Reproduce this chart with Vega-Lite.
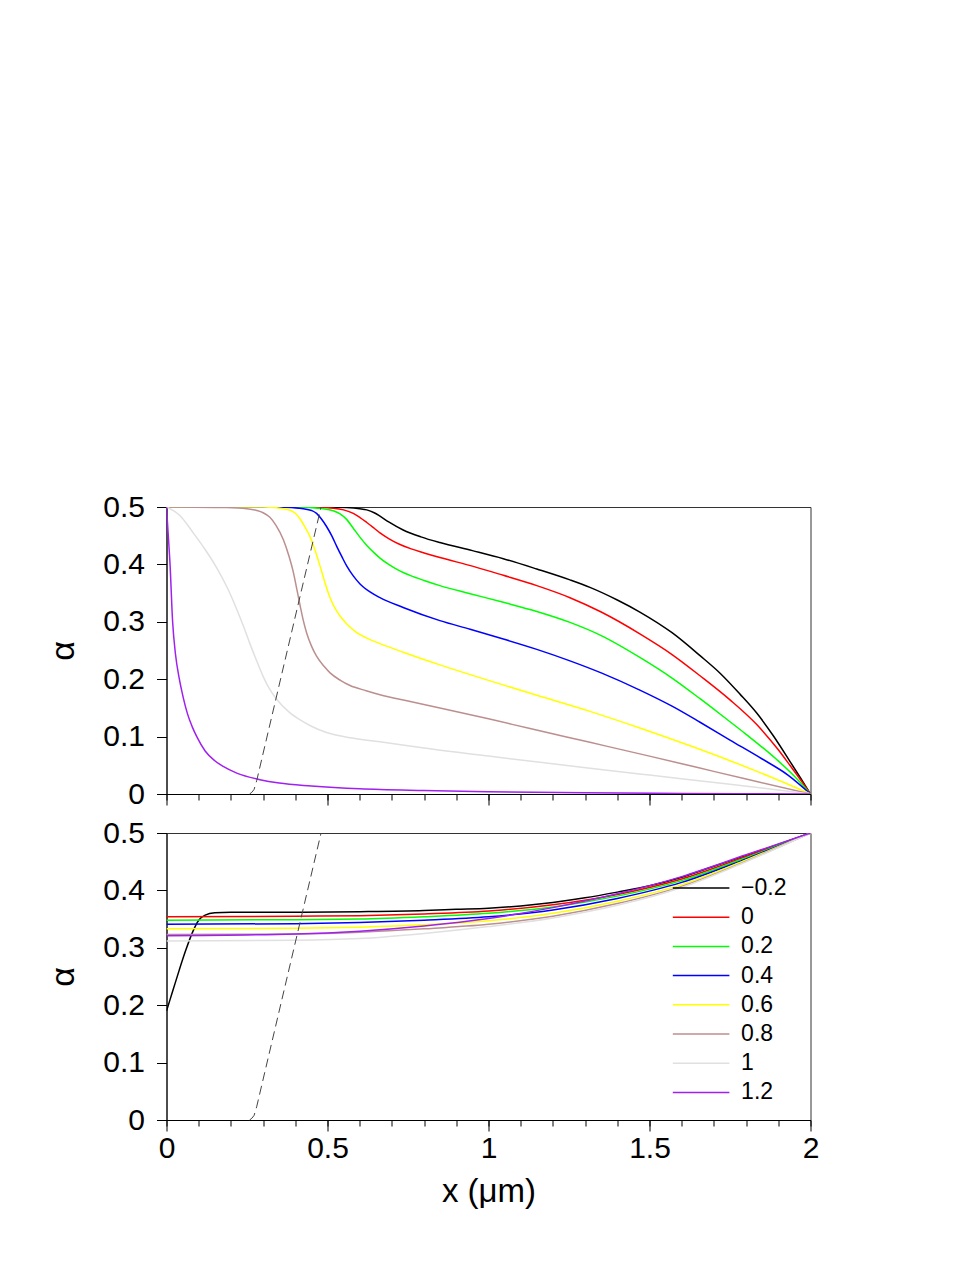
{
  "$schema": "https://vega.github.io/schema/vega-lite/v6.json",
  "autosize": {"type": "none"},
  "padding": {"left": 166.5, "top": 507, "right": 166.5, "bottom": 757},
  "background": "white",
  "bounds": "flush",
  "spacing": 39,
  "config": {
    "font": "Liberation Sans",
    "view": {"stroke": "#333", "strokeWidth": 1},
    "axis": {"grid": false, "domainColor": "black", "tickColor": "black", "labelColor": "black", "titleColor": "black", "labelFont": "Liberation Sans", "titleFont": "Liberation Sans", "domainWidth": 1, "tickWidth": 1, "labelFlush": false}
  },
  "datasets": {
    "top": [
      {"s":"−0.2","x":0,"a":0.5},{"s":"−0.2","x":0.5,"a":0.5},{"s":"−0.2","x":0.56,"a":0.499},{"s":"−0.2","x":0.6,"a":0.497},{"s":"−0.2","x":0.622,"a":0.495},{"s":"−0.2","x":0.645,"a":0.49},{"s":"−0.2","x":0.663,"a":0.484},{"s":"−0.2","x":0.69,"a":0.474},{"s":"−0.2","x":0.735,"a":0.46},{"s":"−0.2","x":0.79,"a":0.448},{"s":"−0.2","x":0.849,"a":0.438},{"s":"−0.2","x":0.95,"a":0.424},{"s":"−0.2","x":1.046,"a":0.41},{"s":"−0.2","x":1.15,"a":0.392},{"s":"−0.2","x":1.253,"a":0.373},{"s":"−0.2","x":1.315,"a":0.36},{"s":"−0.2","x":1.4,"a":0.338},{"s":"−0.2","x":1.47,"a":0.317},{"s":"−0.2","x":1.57,"a":0.281},{"s":"−0.2","x":1.657,"a":0.241},{"s":"−0.2","x":1.72,"a":0.21},{"s":"−0.2","x":1.781,"a":0.174},{"s":"−0.2","x":1.833,"a":0.141},{"s":"−0.2","x":1.885,"a":0.101},{"s":"−0.2","x":1.936,"a":0.057},{"s":"−0.2","x":1.97,"a":0.027},{"s":"−0.2","x":2,"a":0},
      {"s":"0","x":0,"a":0.5},{"s":"0","x":0.45,"a":0.5},{"s":"0","x":0.518,"a":0.498},{"s":"0","x":0.55,"a":0.495},{"s":"0","x":0.58,"a":0.489},{"s":"0","x":0.6,"a":0.482},{"s":"0","x":0.622,"a":0.473},{"s":"0","x":0.645,"a":0.463},{"s":"0","x":0.663,"a":0.455},{"s":"0","x":0.69,"a":0.445},{"s":"0","x":0.72,"a":0.436},{"s":"0","x":0.76,"a":0.427},{"s":"0","x":0.8,"a":0.42},{"s":"0","x":0.849,"a":0.412},{"s":"0","x":0.95,"a":0.397},{"s":"0","x":1.046,"a":0.381},{"s":"0","x":1.15,"a":0.363},{"s":"0","x":1.253,"a":0.342},{"s":"0","x":1.35,"a":0.317},{"s":"0","x":1.47,"a":0.279},{"s":"0","x":1.57,"a":0.243},{"s":"0","x":1.657,"a":0.206},{"s":"0","x":1.75,"a":0.164},{"s":"0","x":1.833,"a":0.121},{"s":"0","x":1.9,"a":0.077},{"s":"0","x":1.936,"a":0.05},{"s":"0","x":1.97,"a":0.024},{"s":"0","x":2,"a":0},
      {"s":"0.2","x":0,"a":0.5},{"s":"0.2","x":0.4,"a":0.5},{"s":"0.2","x":0.487,"a":0.497},{"s":"0.2","x":0.52,"a":0.493},{"s":"0.2","x":0.539,"a":0.488},{"s":"0.2","x":0.56,"a":0.478},{"s":"0.2","x":0.58,"a":0.463},{"s":"0.2","x":0.6,"a":0.448},{"s":"0.2","x":0.622,"a":0.433},{"s":"0.2","x":0.645,"a":0.42},{"s":"0.2","x":0.663,"a":0.411},{"s":"0.2","x":0.69,"a":0.4},{"s":"0.2","x":0.72,"a":0.39},{"s":"0.2","x":0.76,"a":0.38},{"s":"0.2","x":0.8,"a":0.372},{"s":"0.2","x":0.849,"a":0.363},{"s":"0.2","x":0.943,"a":0.349},{"s":"0.2","x":1.046,"a":0.334},{"s":"0.2","x":1.15,"a":0.318},{"s":"0.2","x":1.253,"a":0.299},{"s":"0.2","x":1.35,"a":0.276},{"s":"0.2","x":1.47,"a":0.238},{"s":"0.2","x":1.57,"a":0.202},{"s":"0.2","x":1.657,"a":0.166},{"s":"0.2","x":1.729,"a":0.135},{"s":"0.2","x":1.8,"a":0.104},{"s":"0.2","x":1.895,"a":0.06},{"s":"0.2","x":1.95,"a":0.031},{"s":"0.2","x":2,"a":0},
      {"s":"0.4","x":0,"a":0.5},{"s":"0.4","x":0.35,"a":0.5},{"s":"0.4","x":0.425,"a":0.497},{"s":"0.4","x":0.45,"a":0.494},{"s":"0.4","x":0.466,"a":0.489},{"s":"0.4","x":0.48,"a":0.48},{"s":"0.4","x":0.497,"a":0.466},{"s":"0.4","x":0.513,"a":0.45},{"s":"0.4","x":0.529,"a":0.431},{"s":"0.4","x":0.545,"a":0.413},{"s":"0.4","x":0.56,"a":0.397},{"s":"0.4","x":0.58,"a":0.38},{"s":"0.4","x":0.601,"a":0.366},{"s":"0.4","x":0.632,"a":0.352},{"s":"0.4","x":0.663,"a":0.342},{"s":"0.4","x":0.735,"a":0.325},{"s":"0.4","x":0.849,"a":0.302},{"s":"0.4","x":0.943,"a":0.287},{"s":"0.4","x":1.046,"a":0.27},{"s":"0.4","x":1.15,"a":0.252},{"s":"0.4","x":1.253,"a":0.232},{"s":"0.4","x":1.35,"a":0.211},{"s":"0.4","x":1.47,"a":0.181},{"s":"0.4","x":1.57,"a":0.153},{"s":"0.4","x":1.657,"a":0.125},{"s":"0.4","x":1.75,"a":0.094},{"s":"0.4","x":1.85,"a":0.061},{"s":"0.4","x":1.93,"a":0.033},{"s":"0.4","x":2,"a":0},
      {"s":"0.6","x":0,"a":0.5},{"s":"0.6","x":0.3,"a":0.5},{"s":"0.6","x":0.373,"a":0.496},{"s":"0.6","x":0.4,"a":0.489},{"s":"0.6","x":0.415,"a":0.479},{"s":"0.6","x":0.43,"a":0.465},{"s":"0.6","x":0.446,"a":0.448},{"s":"0.6","x":0.46,"a":0.427},{"s":"0.6","x":0.477,"a":0.397},{"s":"0.6","x":0.49,"a":0.372},{"s":"0.6","x":0.508,"a":0.342},{"s":"0.6","x":0.525,"a":0.322},{"s":"0.6","x":0.539,"a":0.31},{"s":"0.6","x":0.56,"a":0.296},{"s":"0.6","x":0.591,"a":0.281},{"s":"0.6","x":0.632,"a":0.269},{"s":"0.6","x":0.663,"a":0.262},{"s":"0.6","x":0.735,"a":0.247},{"s":"0.6","x":0.849,"a":0.225},{"s":"0.6","x":1.0,"a":0.198},{"s":"0.6","x":1.15,"a":0.172},{"s":"0.6","x":1.315,"a":0.144},{"s":"0.6","x":1.47,"a":0.115},{"s":"0.6","x":1.626,"a":0.084},{"s":"0.6","x":1.75,"a":0.058},{"s":"0.6","x":1.875,"a":0.03},{"s":"0.6","x":2,"a":0},
      {"s":"0.8","x":0,"a":0.5},{"s":"0.8","x":0.187,"a":0.499},{"s":"0.8","x":0.25,"a":0.497},{"s":"0.8","x":0.28,"a":0.494},{"s":"0.8","x":0.3,"a":0.49},{"s":"0.8","x":0.321,"a":0.482},{"s":"0.8","x":0.34,"a":0.468},{"s":"0.8","x":0.363,"a":0.443},{"s":"0.8","x":0.38,"a":0.415},{"s":"0.8","x":0.394,"a":0.386},{"s":"0.8","x":0.405,"a":0.356},{"s":"0.8","x":0.415,"a":0.328},{"s":"0.8","x":0.425,"a":0.302},{"s":"0.8","x":0.435,"a":0.281},{"s":"0.8","x":0.45,"a":0.258},{"s":"0.8","x":0.466,"a":0.24},{"s":"0.8","x":0.49,"a":0.222},{"s":"0.8","x":0.508,"a":0.211},{"s":"0.8","x":0.54,"a":0.198},{"s":"0.8","x":0.57,"a":0.189},{"s":"0.8","x":0.62,"a":0.18},{"s":"0.8","x":0.663,"a":0.173},{"s":"0.8","x":0.75,"a":0.162},{"s":"0.8","x":0.849,"a":0.15},{"s":"0.8","x":1.0,"a":0.131},{"s":"0.8","x":1.129,"a":0.114},{"s":"0.8","x":1.315,"a":0.09},{"s":"0.8","x":1.5,"a":0.066},{"s":"0.8","x":1.65,"a":0.046},{"s":"0.8","x":1.8,"a":0.026},{"s":"0.8","x":2,"a":0},
      {"s":"1","x":0,"a":0.5},{"s":"1","x":0.04,"a":0.486},{"s":"1","x":0.083,"a":0.455},{"s":"1","x":0.12,"a":0.426},{"s":"1","x":0.156,"a":0.394},{"s":"1","x":0.19,"a":0.358},{"s":"1","x":0.218,"a":0.322},{"s":"1","x":0.24,"a":0.291},{"s":"1","x":0.259,"a":0.262},{"s":"1","x":0.28,"a":0.232},{"s":"1","x":0.3,"a":0.205},{"s":"1","x":0.32,"a":0.183},{"s":"1","x":0.342,"a":0.165},{"s":"1","x":0.38,"a":0.143},{"s":"1","x":0.415,"a":0.129},{"s":"1","x":0.45,"a":0.118},{"s":"1","x":0.497,"a":0.107},{"s":"1","x":0.57,"a":0.098},{"s":"1","x":0.663,"a":0.091},{"s":"1","x":0.8,"a":0.08},{"s":"1","x":1.0,"a":0.066},{"s":"1","x":1.315,"a":0.045},{"s":"1","x":1.5,"a":0.033},{"s":"1","x":1.75,"a":0.017},{"s":"1","x":2,"a":0},
      {"s":"1.2","x":0,"a":0.5},{"s":"1.2","x":0.005,"a":0.455},{"s":"1.2","x":0.011,"a":0.4},{"s":"1.2","x":0.019,"a":0.3},{"s":"1.2","x":0.028,"a":0.243},{"s":"1.2","x":0.04,"a":0.2},{"s":"1.2","x":0.052,"a":0.168},{"s":"1.2","x":0.065,"a":0.14},{"s":"1.2","x":0.08,"a":0.117},{"s":"1.2","x":0.094,"a":0.1},{"s":"1.2","x":0.12,"a":0.075},{"s":"1.2","x":0.15,"a":0.058},{"s":"1.2","x":0.176,"a":0.048},{"s":"1.2","x":0.22,"a":0.036},{"s":"1.2","x":0.29,"a":0.025},{"s":"1.2","x":0.35,"a":0.019},{"s":"1.2","x":0.45,"a":0.014},{"s":"1.2","x":0.6,"a":0.009},{"s":"1.2","x":0.8,"a":0.006},{"s":"1.2","x":1.0,"a":0.004},{"s":"1.2","x":1.3,"a":0.002},{"s":"1.2","x":1.6,"a":0.001},{"s":"1.2","x":2,"a":0}
    ],
    "bottom": [
      {"s":"−0.2","x":0,"a":0.19},{"s":"−0.2","x":0.02,"a":0.226},{"s":"−0.2","x":0.04,"a":0.262},{"s":"−0.2","x":0.06,"a":0.296},{"s":"−0.2","x":0.08,"a":0.326},{"s":"−0.2","x":0.1,"a":0.348},{"s":"−0.2","x":0.12,"a":0.357},{"s":"−0.2","x":0.15,"a":0.361},{"s":"−0.2","x":0.2,"a":0.362},{"s":"−0.2","x":0.4,"a":0.362},{"s":"−0.2","x":0.6,"a":0.363},{"s":"−0.2","x":0.8,"a":0.365},{"s":"−0.2","x":0.9,"a":0.367},{"s":"−0.2","x":1.0,"a":0.369},{"s":"−0.2","x":1.1,"a":0.373},{"s":"−0.2","x":1.2,"a":0.379},{"s":"−0.2","x":1.3,"a":0.387},{"s":"−0.2","x":1.4,"a":0.397},{"s":"−0.2","x":1.5,"a":0.408},{"s":"−0.2","x":1.6,"a":0.423},{"s":"−0.2","x":1.7,"a":0.442},{"s":"−0.2","x":1.8,"a":0.461},{"s":"−0.2","x":1.9,"a":0.48},{"s":"−0.2","x":2,"a":0.5},
      {"s":"0","x":0,"a":0.354},{"s":"0","x":0.4,"a":0.355},{"s":"0","x":0.6,"a":0.356},{"s":"0","x":0.8,"a":0.359},{"s":"0","x":1.0,"a":0.364},{"s":"0","x":1.2,"a":0.375},{"s":"0","x":1.4,"a":0.393},{"s":"0","x":1.6,"a":0.42},{"s":"0","x":1.8,"a":0.459},{"s":"0","x":2,"a":0.5},
      {"s":"0.2","x":0,"a":0.348},{"s":"0.2","x":0.4,"a":0.349},{"s":"0.2","x":0.6,"a":0.35},{"s":"0.2","x":0.8,"a":0.354},{"s":"0.2","x":1.0,"a":0.36},{"s":"0.2","x":1.2,"a":0.371},{"s":"0.2","x":1.4,"a":0.39},{"s":"0.2","x":1.6,"a":0.417},{"s":"0.2","x":1.8,"a":0.457},{"s":"0.2","x":2,"a":0.5},
      {"s":"0.4","x":0,"a":0.341},{"s":"0.4","x":0.4,"a":0.342},{"s":"0.4","x":0.6,"a":0.344},{"s":"0.4","x":0.8,"a":0.348},{"s":"0.4","x":1.0,"a":0.354},{"s":"0.4","x":1.2,"a":0.366},{"s":"0.4","x":1.4,"a":0.386},{"s":"0.4","x":1.6,"a":0.414},{"s":"0.4","x":1.8,"a":0.455},{"s":"0.4","x":2,"a":0.5},
      {"s":"0.6","x":0,"a":0.333},{"s":"0.6","x":0.4,"a":0.334},{"s":"0.6","x":0.6,"a":0.336},{"s":"0.6","x":0.8,"a":0.34},{"s":"0.6","x":1.0,"a":0.347},{"s":"0.6","x":1.2,"a":0.36},{"s":"0.6","x":1.4,"a":0.381},{"s":"0.6","x":1.6,"a":0.41},{"s":"0.6","x":1.8,"a":0.453},{"s":"0.6","x":2,"a":0.5},
      {"s":"0.8","x":0,"a":0.323},{"s":"0.8","x":0.4,"a":0.324},{"s":"0.8","x":0.6,"a":0.327},{"s":"0.8","x":0.8,"a":0.333},{"s":"0.8","x":1.0,"a":0.341},{"s":"0.8","x":1.2,"a":0.355},{"s":"0.8","x":1.4,"a":0.377},{"s":"0.8","x":1.6,"a":0.407},{"s":"0.8","x":1.8,"a":0.451},{"s":"0.8","x":2,"a":0.5},
      {"s":"1","x":0,"a":0.312},{"s":"1","x":0.4,"a":0.313},{"s":"1","x":0.6,"a":0.316},{"s":"1","x":0.8,"a":0.325},{"s":"1","x":1.0,"a":0.337},{"s":"1","x":1.2,"a":0.352},{"s":"1","x":1.4,"a":0.374},{"s":"1","x":1.6,"a":0.405},{"s":"1","x":1.8,"a":0.45},{"s":"1","x":2,"a":0.5},
      {"s":"1.2","x":0,"a":0.321},{"s":"1.2","x":0.4,"a":0.324},{"s":"1.2","x":0.6,"a":0.329},{"s":"1.2","x":0.8,"a":0.338},{"s":"1.2","x":1.0,"a":0.351},{"s":"1.2","x":1.2,"a":0.37},{"s":"1.2","x":1.4,"a":0.394},{"s":"1.2","x":1.6,"a":0.424},{"s":"1.2","x":1.8,"a":0.462},{"s":"1.2","x":2,"a":0.5}
    ],
    "dash": [
      {"x":0.258,"a":0},{"x":0.265,"a":0.003},{"x":0.272,"a":0.008},{"x":0.28,"a":0.023},{"x":0.48,"a":0.5}
    ]
  },
  "resolve": {"legend": {"color": "independent"}},
  "vconcat": [
    {
      "width": 644, "height": 287,
      "resolve": {"axis": {"x": "independent"}},
      "layer": [
        {
          "data": {"name": "top"},
          "mark": {"type": "line", "strokeWidth": 1.5, "interpolate": "monotone", "clip": true},
          "encoding": {
            "x": {"field": "x", "type": "quantitative", "scale": {"domain": [0, 2], "nice": false},
                  "axis": {"orient": "bottom", "values": [0, 0.5, 1, 1.5, 2], "labels": false, "tickSize": 11, "title": null}},
            "y": {"field": "a", "type": "quantitative", "scale": {"domain": [0, 0.5], "nice": false},
                  "axis": {"values": [0, 0.1, 0.2, 0.3, 0.4, 0.5], "format": "~g", "tickSize": 10, "labelFontSize": 30, "labelPadding": 12, "title": "α", "titleFontSize": 34, "titleFontWeight": "normal", "titlePadding": 22}},
            "color": {"field": "s", "type": "nominal",
                      "scale": {"domain": ["−0.2", "0", "0.2", "0.4", "0.6", "0.8", "1", "1.2"], "range": ["#000000", "#ff0000", "#00ff00", "#0000ff", "#ffff00", "#bc8f8f", "#e0e0e0", "#a020f0"]},
                      "legend": null}
          }
        },
        {
          "data": {"name": "dash"},
          "mark": {"type": "line", "color": "#444", "strokeWidth": 1, "strokeDash": [9, 5]},
          "encoding": {
            "x": {"field": "x", "type": "quantitative", "scale": {"domain": [0, 2], "nice": false},
                  "axis": {"orient": "bottom", "values": [0, 0.1, 0.2, 0.3, 0.4, 0.5, 0.6, 0.7, 0.8, 0.9, 1, 1.1, 1.2, 1.3, 1.4, 1.5, 1.6, 1.7, 1.8, 1.9, 2], "labels": false, "domain": false, "tickSize": 6, "title": null}},
            "y": {"field": "a", "type": "quantitative"}
          }
        }
      ]
    },
    {
      "width": 644, "height": 287,
      "resolve": {"axis": {"x": "independent"}},
      "layer": [
        {
          "data": {"name": "bottom"},
          "mark": {"type": "line", "strokeWidth": 1.5, "interpolate": "monotone", "clip": true},
          "encoding": {
            "x": {"field": "x", "type": "quantitative", "scale": {"domain": [0, 2], "nice": false},
                  "axis": {"orient": "bottom", "values": [0, 0.5, 1, 1.5, 2], "format": "~g", "tickSize": 11, "labelFontSize": 30, "labelPadding": 2, "title": "x (μm)", "titleFontSize": 33, "titleFontWeight": "normal", "titlePadding": 12}},
            "y": {"field": "a", "type": "quantitative", "scale": {"domain": [0, 0.5], "nice": false},
                  "axis": {"values": [0, 0.1, 0.2, 0.3, 0.4, 0.5], "format": "~g", "tickSize": 10, "labelFontSize": 30, "labelPadding": 12, "title": "α", "titleFontSize": 34, "titleFontWeight": "normal", "titlePadding": 22}},
            "color": {"field": "s", "type": "nominal",
                      "scale": {"domain": ["−0.2", "0", "0.2", "0.4", "0.6", "0.8", "1", "1.2"], "range": ["#000000", "#ff0000", "#00ff00", "#0000ff", "#ffff00", "#bc8f8f", "#e0e0e0", "#a020f0"]},
                      "legend": {"orient": "none", "legendX": 519.6, "legendY": 40, "title": null, "padding": 0, "symbolType": "M-2,0H2", "symbolSize": 800, "symbolStrokeWidth": 1.5, "labelFontSize": 23, "labelOffset": 25, "rowPadding": 2.2, "labelFont": "Liberation Sans", "labelColor": "black"}}
          }
        },
        {
          "data": {"name": "dash"},
          "mark": {"type": "line", "color": "#444", "strokeWidth": 1, "strokeDash": [9, 5]},
          "encoding": {
            "x": {"field": "x", "type": "quantitative", "scale": {"domain": [0, 2], "nice": false},
                  "axis": {"orient": "bottom", "values": [0, 0.1, 0.2, 0.3, 0.4, 0.5, 0.6, 0.7, 0.8, 0.9, 1, 1.1, 1.2, 1.3, 1.4, 1.5, 1.6, 1.7, 1.8, 1.9, 2], "labels": false, "domain": false, "tickSize": 6, "title": null}},
            "y": {"field": "a", "type": "quantitative"}
          }
        }
      ]
    }
  ]
}
